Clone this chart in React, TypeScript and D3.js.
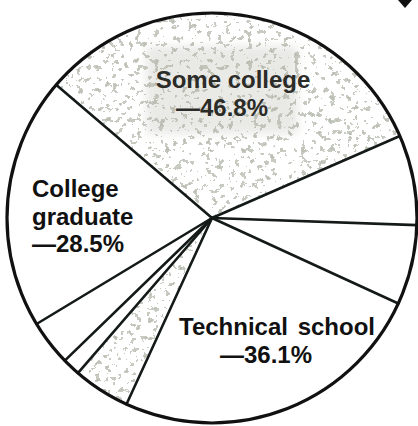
import React, { useEffect, useRef } from 'react';
import * as d3 from 'd3';

// share of the circle for each wedge, clockwise from the upper-left boundary
const slices = [
  'Some college',
  'other-a',
  'other-b',
  'Technical school',
  'other-c',
  'other-d',
  'other-e',
  'College graduate',
];
const shares = [32.2, 7.1, 6.3, 25.0, 4.5, 1.4, 3.6, 19.9];
const shaded = [true, false, false, false, true, false, false, false];

const labelLines: { [k: string]: string[] } = {
  'Some college': ['Some college', '—46.8%'],
  'Technical school': ['Technical school', '—36.1%'],
  'College graduate': ['College', 'graduate', '—28.5%'],
};

const App = () => {
  const svgRef = useRef<SVGSVGElement>(null);

  useEffect(() => {
    const width = 418;
    const height = 426;
    const cx = 212;
    const cy = 218;
    const radius = 205;
    const startDeg = -49.5;

    const svg = d3.select(svgRef.current);
    svg.selectAll('*').remove();
    svg.attr('width', width).attr('height', height);

    const defs = svg.append('defs');
    const f = defs
      .append('filter')
      .attr('id', 'speckle')
      .attr('x', 0)
      .attr('y', 0)
      .attr('width', 1)
      .attr('height', 1);
    f.append('feTurbulence')
      .attr('type', 'fractalNoise')
      .attr('baseFrequency', 0.17)
      .attr('numOctaves', 3)
      .attr('seed', 11)
      .attr('result', 'noise');
    f.append('feColorMatrix')
      .attr('in', 'noise')
      .attr('type', 'matrix')
      .attr('values', '0 0 0 0 0.5  0 0 0 0 0.52  0 0 0 0 0.46  1 0 0 0 0')
      .attr('result', 'tinted');
    const ct = f.append('feComponentTransfer').attr('in', 'tinted').attr('result', 'dots');
    ct.append('feFuncA').attr('type', 'discrete').attr('tableValues', '0 0 0 0 0 0.85 1 1');
    f.append('feComposite')
      .attr('in', 'dots')
      .attr('in2', 'SourceGraphic')
      .attr('operator', 'in')
      .attr('result', 'clipped');
    const m = f.append('feMerge');
    m.append('feMergeNode').attr('in', 'SourceGraphic');
    m.append('feMergeNode').attr('in', 'clipped');

    const blur = defs.append('filter').attr('id', 'soft').attr('x', '-30%').attr('y', '-30%').attr('width', '160%').attr('height', '160%');
    blur.append('feGaussianBlur').attr('stdDeviation', 5);

    svg.append('rect').attr('width', width).attr('height', height).attr('fill', '#fff');

    const g = svg.append('g').attr('transform', `translate(${cx}, ${cy})`);

    const pie = d3
      .pie<number>()
      .sort(null)
      .value((d) => d)
      .startAngle((startDeg * Math.PI) / 180)
      .endAngle((startDeg * Math.PI) / 180 + 2 * Math.PI);
    const arcs = pie(shares);
    const arc = d3.arc<d3.PieArcDatum<number>>().innerRadius(0).outerRadius(radius);

    g.selectAll('path.slice')
      .data(arcs)
      .enter()
      .append('path')
      .attr('class', 'slice')
      .attr('d', arc)
      .attr('fill', '#fff')
      .attr('filter', (d, i) => (shaded[i] ? 'url(#speckle)' : null));

    // smudge behind the top label (scan artefact)
    g.append('rect')
      .attr('x', -66)
      .attr('y', -172)
      .attr('width', 152)
      .attr('height', 88)
      .attr('fill', '#b8b9ae')
      .attr('opacity', 0.3)
      .attr('filter', 'url(#soft)');

    // wedge boundaries
    g.selectAll('line.edge')
      .data(arcs)
      .enter()
      .append('line')
      .attr('class', 'edge')
      .attr('x1', 0)
      .attr('y1', 0)
      .attr('x2', (d) => radius * Math.sin(d.startAngle))
      .attr('y2', (d) => -radius * Math.cos(d.startAngle))
      .attr('stroke', '#141a18')
      .attr('stroke-width', 2.6)
      .attr('stroke-linecap', 'round');

    g.append('circle')
      .attr('r', radius)
      .attr('fill', 'none')
      .attr('stroke', '#111')
      .attr('stroke-width', 3.2);

    // labels
    const labelPos: { [k: string]: { x: number; y: number; anchor: string; color: string } } = {
      'Some college': { x: 21, y: -130, anchor: 'middle', color: '#2b2b28' },
      'Technical school': { x: 65, y: 117, anchor: 'middle', color: '#111' },
      'College graduate': { x: -180, y: -21, anchor: 'start', color: '#111' },
    };

    slices.forEach((name) => {
      const lines = labelLines[name];
      if (!lines) return;
      const p = labelPos[name];
      const t = g
        .append('text')
        .attr('x', p.x)
        .attr('y', p.y)
        .attr('text-anchor', p.anchor)
        .attr('font-family', 'Liberation Sans, Arial, sans-serif')
        .attr('font-weight', 'bold')
        .attr('font-size', '24px')
        .attr('word-spacing', name === 'Technical school' ? '3px' : '0px')
        .attr('fill', p.color);
      lines.forEach((line, i) => {
        t.append('tspan')
          .attr('x', name === 'College graduate' ? p.x : i === 0 ? p.x : p.x - 11)
          .attr('dy', i === 0 ? 0 : name === 'College graduate' ? 27.5 : 28)
          .text(line);
      });
    });

    // small black mark at the top right corner of the scan
    svg
      .append('path')
      .attr('d', d3.line()([[398, 0], [412, 0], [405, 8]]) + 'Z')
      .attr('fill', '#111');
  }, []);

  return <svg ref={svgRef} style={{ position: 'absolute', left: 0, top: 0 }} />;
};

export default App;
